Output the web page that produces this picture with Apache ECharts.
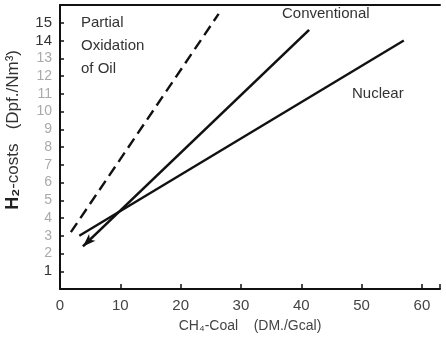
<!DOCTYPE html>
<html>
<head>
<meta charset="utf-8">
<script src="https://cdn.jsdelivr.net/npm/echarts@6/dist/echarts.min.js"></script>
<style>
  html, body { margin: 0; padding: 0; background: #fff; }
  #chart { width: 446px; height: 345px; }
</style>
</head>
<body>
<div id="chart"></div>
<script>
// H2 costs vs. CH4/coal price
const oilX = [1.8, 26.3];
const oilY = [3.2, 15.5];
const convX = [3.8, 41.3];
const convY = [2.4, 14.6];
const nucX = [3.2, 57.0];
const nucY = [3.0, 14.0];
const yTickLabels = ['', '1', '2', '3', '4', '5', '6', '7', '8', '9', '10', '11', '12', '13', '14', '15', ''];

const font = 'Liberation Sans, Arial, sans-serif';
const ink = '#111';

const pairs = (xs, ys) => xs.map((x, i) => [x, ys[i]]);

const chart = echarts.init(document.getElementById('chart'), null, { renderer: 'canvas' });

const convData = pairs(convX, convY).map((p, i) => i === 0
  ? { value: p, symbol: 'arrow', symbolSize: [7, 13], symbolRotate: 134 }
  : { value: p, symbol: 'none' });

chart.setOption({
  animation: false,
  backgroundColor: '#fff',
  grid: { left: 60, right: 6, top: 5, bottom: 56 },
  xAxis: [
    {
      type: 'value',
      min: 0,
      max: 63,
      interval: 10,
      name: 'CH₄-Coal    (DM./Gcal)',
      nameLocation: 'middle',
      nameGap: 30,
      nameTextStyle: { fontFamily: font, fontSize: 14, color: '#444' },
      axisLine: { show: true, lineStyle: { color: ink, width: 2 } },
      axisTick: { show: true, inside: true, length: 5, lineStyle: { color: ink, width: 1.5 } },
      axisLabel: {
        fontFamily: font, fontSize: 15, color: '#444', margin: 9,
        formatter: v => (v % 10 === 0 && v <= 60 ? String(v) : '')
      },
      splitLine: { show: false }
    },
    {
      type: 'value',
      position: 'top',
      min: 0,
      max: 63,
      axisLine: { show: true, lineStyle: { color: ink, width: 2 } },
      axisTick: { show: false },
      axisLabel: { show: false },
      splitLine: { show: false }
    }
  ],
  yAxis: {
    type: 'value',
    min: 0,
    max: 16,
    interval: 1,
    axisLine: { show: true, lineStyle: { color: ink, width: 2 } },
    axisTick: { show: true, inside: true, length: 4, lineStyle: { color: ink, width: 1.5 } },
    axisLabel: {
      fontFamily: font, fontSize: 14, margin: 8,
      formatter: v => {
        const s = yTickLabels[v] || '';
        if (!s) return '';
        return (v === 1 || v >= 14) ? '{d|' + s + '}' : '{f|' + s + '}';
      },
      rich: {
        d: { fontFamily: font, fontSize: 15, color: '#333' },
        f: { fontFamily: font, fontSize: 14, color: '#aaa' }
      }
    },
    splitLine: { show: false }
  },
  graphic: [
    {
      type: 'text',
      left: 4,
      top: 50,
      rotation: Math.PI / 2,
      style: {
        text: '{b|H₂}{n|-costs   (Dpf./Nm³)}',
        rich: {
          b: { fontFamily: font, fontSize: 18, fontWeight: 'bold', fill: '#222' },
          n: { fontFamily: font, fontSize: 17, fill: '#333' }
        }
      }
    },
    {
      type: 'text',
      left: 81,
      top: 11,
      style: {
        text: 'Partial\nOxidation\nof Oil',
        fontFamily: font, fontSize: 15, lineHeight: 23, fill: '#333'
      }
    },
    {
      type: 'text',
      left: 282,
      top: 6,
      style: { text: 'Conventional', fontFamily: font, fontSize: 15, fill: '#333' }
    },
    {
      type: 'text',
      left: 352,
      top: 86,
      style: { text: 'Nuclear', fontFamily: font, fontSize: 15, fill: '#333' }
    }
  ],
  series: [
    {
      name: 'Partial Oxidation of Oil',
      type: 'line',
      symbol: 'none',
      data: pairs(oilX, oilY),
      lineStyle: { color: ink, width: 2.4, type: [11, 6] }
    },
    {
      name: 'Conventional',
      type: 'line',
      symbol: 'none',
      showSymbol: true,
      data: convData,
      itemStyle: { color: ink },
      lineStyle: { color: ink, width: 2.6 }
    },
    {
      name: 'Nuclear',
      type: 'line',
      symbol: 'none',
      data: pairs(nucX, nucY),
      lineStyle: { color: ink, width: 2.4 }
    }
  ]
});
</script>
</body>
</html>
